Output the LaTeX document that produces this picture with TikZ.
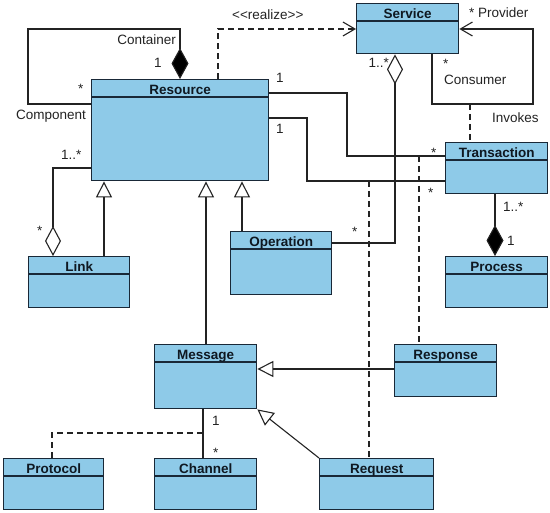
\documentclass[tikz,border=0pt]{standalone}
\usepackage{fontspec}
\setmainfont{Liberation Sans}
\usetikzlibrary{arrows.meta}
\definecolor{boxfill}{RGB}{142,202,232}
\definecolor{boxedge}{RGB}{25,40,55}
\definecolor{ink}{RGB}{35,35,35}
\tikzset{
  cls/.style={draw=boxedge, fill=boxfill, line width=1.4pt, inner sep=0pt, anchor=north west},
  hdr/.style={draw=boxedge, line width=1.2pt},
  ttl/.style={font=\fontsize{13.5}{16}\selectfont\bfseries, text=boxedge!60!black, inner sep=0pt, anchor=base},
  lbl/.style={font=\fontsize{13.5}{16}\selectfont, text=ink, inner sep=0pt, anchor=base west},
  lble/.style={lbl, anchor=base east},
  conn/.style={draw=ink, line width=1.1pt},
  dsh/.style={conn, dash pattern=on 6pt off 4pt},
  gen/.style={conn, -{Triangle[open, length=16pt, width=16pt, fill=white]}},
  opena/.style={-{Straight Barb[length=12pt, width=14pt, line width=1.1pt]}},
  comp/.style={conn, {Diamond[length=31pt, width=17pt, fill=black]}-},
  compend/.style={conn, -{Diamond[length=31pt, width=17pt, fill=black]}},
  aggr/.style={conn, {Diamond[open, length=30pt, width=16pt, fill=white]}-},
}
\newcommand\umlclass[6]{%
  \node[cls, minimum width=#4pt, minimum height=#5pt] (#1) at (#2,#3) {};
  \draw[hdr] ([yshift=-18pt]#1.north west) -- ([yshift=-18pt]#1.north east);
  \node[ttl] (#1-t) at ([yshift=-15.5pt]#1.north) {#6};
}
\begin{document}
\begin{tikzpicture}[x=1pt, y=-1pt]
\useasboundingbox (0,0) rectangle (550,513);
% classes
\umlclass{res}{91}{79}{177}{101}{Resource}
\umlclass{serv}{356}{3}{102}{50}{Service}
\umlclass{trans}{445}{142}{102}{51}{Transaction}
\umlclass{proc}{445}{256}{102}{51}{Process}
\umlclass{op}{230}{231}{101}{63}{Operation}
\umlclass{link}{28}{256}{101}{51}{Link}
\umlclass{msg}{154}{344}{102}{64}{Message}
\umlclass{prot}{3}{458}{100}{51}{Protocol}
\umlclass{chan}{154}{458}{102}{51}{Channel}
\umlclass{resp}{394}{344}{102}{52}{Response}
\umlclass{req}{319}{458}{114}{51}{Request}

% Resource self composition
\draw[comp] (180,0 |- res.north) |- (28,29) |- (res.west |- 0,104);
\node[lble] (lcont) at (176,45) {Container};
\node[lbl] (lc1) at (154,68) {1};
\node[lbl] (lcs) at (78,94) {*};
\node[lbl] (lcomp) at (16,120) {Component};

% realize
\draw[dsh, opena] (218,0 |- res.north) |- (serv.west |- 0,29);
\node[lbl] (lreal) at (232,20) {<{}<realize>{}>};

% Service self association
\coordinate (inv) at (470,104);
\draw[conn, opena] (432,0 |- serv.south) |- (533,104) |- (serv.east |- 0,29);
\node[lbl] (lprov) at (469,18) {* Provider};
\node[lbl] (lcs2) at (443,69) {*};
\node[lbl] (lcons) at (444,85) {Consumer};
\node[lbl] (linv) at (492,123) {Invokes};
\draw[dsh] (inv) -- (inv |- trans.north);

% Resource - Transaction
\coordinate (rt1) at (419,156);
\coordinate (rt2) at (369,181);
\draw[conn] (res.east |- 0,93) -| (347,156) -- (trans.west |- rt1);
\draw[conn] (res.east |- 0,118) -| (307,181) -- (trans.west |- rt2);
\node[lbl] (lr1) at (276,83) {1};
\node[lbl] (lr2) at (276,134) {1};
\node[lbl] (lt1) at (431,158) {*};
\node[lbl] (lt2) at (428,198) {*};
\draw[dsh] (rt1) -- (rt1 |- resp.north);
\draw[dsh] (rt2) -- (rt2 |- req.north);

% Service - Operation aggregation
\draw[aggr] (395,0 |- serv.south) |- (op.east |- 0,243);
\node[lble] (ls1) at (389,68) {1..*};
\node[lbl] (lo1) at (352,237) {*};

% Transaction - Process composition
\draw[compend] (495,0 |- trans.south) -- (495,0 |- proc.north);
\node[lbl] (ltp1) at (503,212) {1..*};
\node[lbl] (ltp2) at (507,246) {1};

% Link - Resource aggregation
\draw[aggr] (53,0 |- link.north) |- (res.west |- 0,168);
\node[lbl] (ll1) at (61,160) {1..*};
\node[lbl] (ll2) at (37,236) {*};

% generalizations
\draw[gen] (104,0 |- link.north) -- (104,0 |- res.south);
\draw[gen] (206,0 |- msg.north) -- (206,0 |- res.south);
\draw[gen] (242,0 |- op.north) -- (242,0 |- res.south);
\draw[gen] (resp.west |- 0,369) -- (msg.east |- 0,369);
\draw[gen] (req.north west) -- (msg.south east);

% Message - Channel
\coordinate (mc) at (203,433);
\draw[conn] (mc |- msg.south) -- (mc |- chan.north);
\node[lbl] (lm1) at (212,426) {1};
\node[lbl] (lm2) at (213,458) {*};
\draw[dsh] (52,0 |- prot.north) |- (mc);
\end{tikzpicture}
\end{document}
